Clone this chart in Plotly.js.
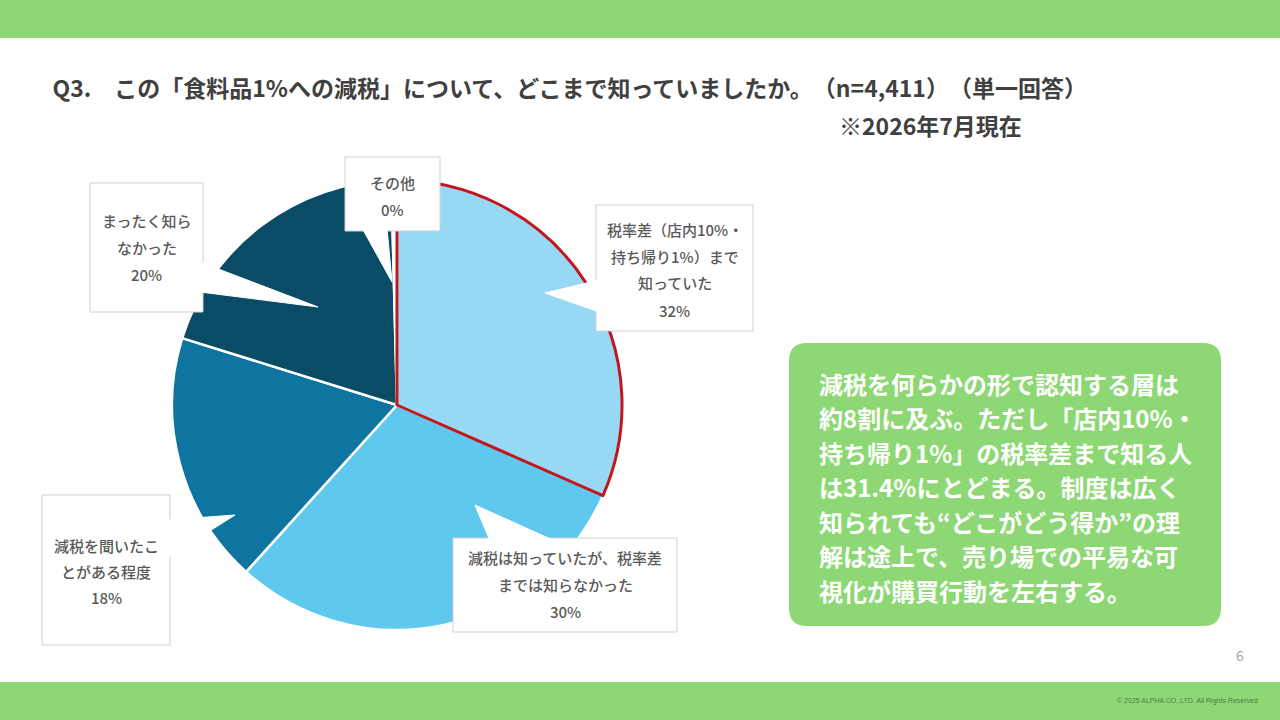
<!DOCTYPE html>
<html>
<head>
<meta charset="utf-8">
<script src="https://cdn.plot.ly/plotly-3.0.1.min.js"></script>
<style>
html,body{margin:0;padding:0;background:#fff;}
#chart{width:1280px;height:720px;}
#chart text{text-spacing-trim:space-all;}
</style>
</head>
<body>
<div id="chart"></div>
<script>
// ---- data ----
const categories = [
  "税率差（店内10%・持ち帰り1%）まで知っていた",
  "減税は知っていたが、税率差までは知らなかった",
  "減税を聞いたことがある程度",
  "まったく知らなかった",
  "その他"
];
const values = [31.6, 30.1, 18.1, 19.8, 0.4];
const labelLines = [
  ["税率差（店内10%・", "持ち帰り1%）まで", "知っていた"],
  ["減税は知っていたが、税率差", "までは知らなかった"],
  ["減税を聞いたこ", "とがある程度"],
  ["まったく知ら", "なかった"],
  ["その他"]
];
const sliceColors = ["#97D9F5", "#5EC8EF", "#0E74A0", "#0A4C66", "#FFFFFF"];
const titleText = "Q3.　この「食料品1%への減税」について、どこまで知っていましたか。（n=4,411）（単一回答）";
const subTitle = "※2026年7月現在";
const noteLines = [
  "減税を何らかの形で認知する層は",
  "約8割に及ぶ。ただし「店内10%・",
  "持ち帰り1%」の税率差まで知る人",
  "は31.4%にとどまる。制度は広く",
  "知られても“どこがどう得か”の理",
  "解は途上で、売り場での平易な可",
  "視化が購買行動を左右する。"
];

// ---- layout helpers (pixel -> paper) ----
const W = 1280, H = 720;
const px = x => x / W;
const py = y => 1 - y / H;
const FONT = "'Noto Sans CJK JP', 'Noto Sans', sans-serif";

// callout box geometry: [left, top, right, bottom], first line y, line step, tail [base1, base2, tip]
const callouts = [
  {box:[596,205,753,331], y0:229, step:27, tail:[[599,280],[599,312],[545,293]]},
  {box:[453,538,677,632], y0:557, step:27, tail:[[490,541],[555,541],[475,505]]},
  {box:[42,495,170,645],  y0:545, step:26, tail:[[167,520],[167,558],[235,515]]},
  {box:[90,183,203,312],  y0:220, step:27, tail:[[200,262],[200,292],[318,307]]},
  {box:[345,157,440,231], y0:182, step:27, tail:[[362,228],[387,228],[392,282]]}
];

const shapes = [];
const annotations = [];

// green bars
shapes.push({type:'rect', xref:'paper', yref:'paper', x0:0, x1:1, y0:py(38), y1:1, fillcolor:'#8DD874', line:{width:0}, layer:'below'});
shapes.push({type:'rect', xref:'paper', yref:'paper', x0:0, x1:1, y0:0, y1:py(682), fillcolor:'#8DD874', line:{width:0}, layer:'below'});

// callouts
callouts.forEach((c, i) => {
  const [l, t, r, b] = c.box;
  shapes.push({type:'rect', xref:'paper', yref:'paper', x0:px(l), x1:px(r), y0:py(b), y1:py(t),
    fillcolor:'#FFFFFF', line:{color:'#D0D0D0', width:1}});
  const [a, bb, tip] = c.tail;
  shapes.push({type:'path', xref:'paper', yref:'paper',
    path:`M ${px(a[0])} ${py(a[1])} L ${px(tip[0])} ${py(tip[1])} L ${px(bb[0])} ${py(bb[1])} Z`,
    fillcolor:'#FFFFFF', line:{color:'#FFFFFF', width:1}});
  const lines = labelLines[i].concat([Math.round(values[i]) + '%']);
  const cx = (l + r) / 2;
  lines.forEach((s, k) => {
    annotations.push({xref:'paper', yref:'paper', x:px(cx), y:py(c.y0 + k * c.step),
      xanchor:'center', yanchor:'middle', showarrow:false, text:s,
      font:{family:FONT, size:15, color:'#595959', weight:500}});
  });
});

// green note box with rounded corners
(function(){
  const l=789, t=343, r=1221, b=626, rad=18;
  const p = (x,y) => `${px(x)} ${py(y)}`;
  const path = `M ${p(l+rad,t)} L ${p(r-rad,t)} Q ${p(r,t)} ${p(r,t+rad)} L ${p(r,b-rad)} Q ${p(r,b)} ${p(r-rad,b)} L ${p(l+rad,b)} Q ${p(l,b)} ${p(l,b-rad)} L ${p(l,t+rad)} Q ${p(l,t)} ${p(l+rad,t)} Z`;
  shapes.push({type:'path', xref:'paper', yref:'paper', path:path, fillcolor:'#8DD874', line:{width:0}});
})();
noteLines.forEach((s, k) => {
  annotations.push({xref:'paper', yref:'paper', x:px(817), y:py(383 + k * 34.5),
    xanchor:'left', yanchor:'middle', showarrow:false, text:s,
    font:{family:FONT, size:24, color:'#FFFFFF', weight:700}});
});

// titles
annotations.push({xref:'paper', yref:'paper', x:px(62), y:py(87), xanchor:'left', yanchor:'middle',
  showarrow:false, text:titleText, font:{family:FONT, size:23, color:'#404040', weight:700}});
annotations.push({xref:'paper', yref:'paper', x:px(837), y:py(125), xanchor:'left', yanchor:'middle',
  showarrow:false, text:subTitle, font:{family:FONT, size:23, color:'#404040', weight:700}});

// page number & footer
annotations.push({xref:'paper', yref:'paper', x:px(1240), y:py(655), xanchor:'center', yanchor:'middle',
  showarrow:false, text:'6', font:{family:FONT, size:14, color:'#A6A6A6'}});
annotations.push({xref:'paper', yref:'paper', x:px(1260), y:py(701), xanchor:'right', yanchor:'middle',
  showarrow:false, text:'© 2025 ALPHA CO.,LTD. All Rights Reserved', font:{family:"'Liberation Sans', sans-serif", size:7, color:'#4E7A40'}});

const domain = {x:[px(172), px(622)], y:[py(630), py(180)]};

const pieBase = {
  type:'pie', values:values, labels:categories, sort:false, direction:'clockwise', rotation:0,
  textinfo:'none', hoverinfo:'label+percent', domain:domain,
  marker:{colors:sliceColors, line:{color:'#FFFFFF', width:2.5}}
};
const pieOutline = {
  type:'pie', values:values, labels:categories, sort:false, direction:'clockwise', rotation:0,
  textinfo:'none', hoverinfo:'skip', domain:domain,
  marker:{colors:values.map(()=> 'rgba(0,0,0,0)'),
    line:{color:values.map((v,i)=> i===0 ? '#C0171E' : 'rgba(0,0,0,0)'), width:values.map((v,i)=> i===0 ? 3 : 0)}}
};

const layout = {
  width:W, height:H, margin:{l:0, r:0, t:0, b:0},
  paper_bgcolor:'#FFFFFF', plot_bgcolor:'#FFFFFF', showlegend:false,
  shapes:shapes, annotations:annotations
};

Plotly.newPlot('chart', [pieBase, pieOutline], layout, {displayModeBar:false, staticPlot:true});
</script>
</body>
</html>
